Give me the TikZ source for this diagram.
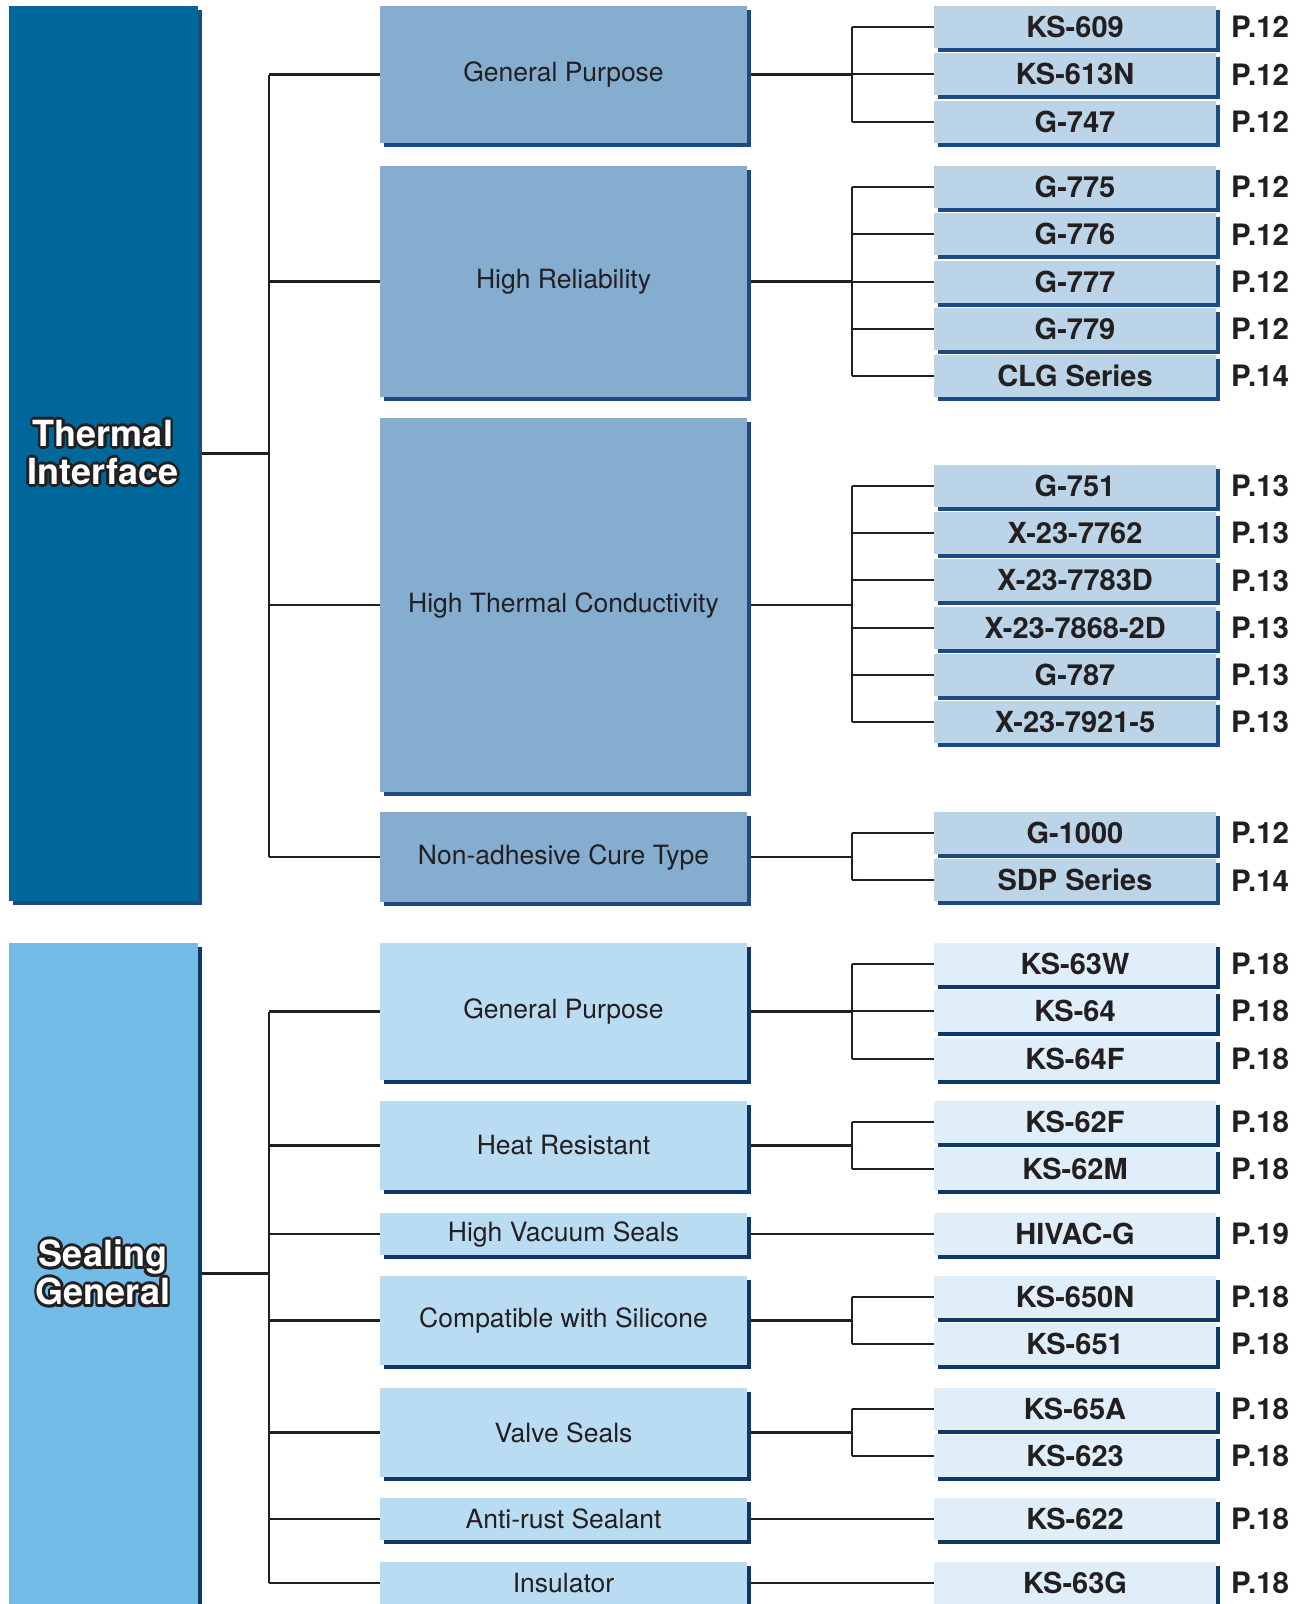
\documentclass[tikz,border=0pt]{standalone}
\usepackage{fontspec}
\setmainfont{TeX Gyre Heros}
\usetikzlibrary{shadows}
\pgfdeclarelayer{bg}
\pgfsetlayers{bg,main}
\definecolor{tmainc}{HTML}{00679B}
\definecolor{tmidc}{HTML}{84ADD0}
\definecolor{tprodc}{HTML}{BCD4E7}
\definecolor{tshad}{HTML}{1B4B80}
\definecolor{smainc}{HTML}{74BCE8}
\definecolor{smidc}{HTML}{BADCF3}
\definecolor{sprodc}{HTML}{E0EEF9}
\definecolor{sshad}{HTML}{0E3866}
\definecolor{txt}{HTML}{231F20}
\tikzset{
  box/.style={inner sep=0pt, outer sep=0pt, text=txt, anchor=center},
  tshadow/.style={general shadow={shadow xshift=3.5pt, shadow yshift=-4pt, fill=tshad}},
  sshadow/.style={general shadow={shadow xshift=3.5pt, shadow yshift=-4pt, fill=sshad}},
  mainT/.style={box, tshadow, fill=tmainc, minimum width=189pt, minimum height=895pt},
  mainS/.style={box, sshadow, fill=smainc, minimum width=189pt, minimum height=661pt},
  midT/.style={box, tshadow, fill=tmidc, minimum width=367pt, font=\fontsize{26.5}{30}\selectfont},
  midS/.style={box, sshadow, fill=smidc, minimum width=367pt, font=\fontsize{26.5}{30}\selectfont},
  prodT/.style={box, tshadow, fill=tprodc, minimum width=282pt, minimum height=42pt, font=\bfseries\fontsize{29}{30}\selectfont},
  prodS/.style={box, sshadow, fill=sprodc, minimum width=282pt, minimum height=42pt, font=\bfseries\fontsize{29}{30}\selectfont},
  pagelab/.style={inner sep=0pt, anchor=west, text=txt, font=\bfseries\fontsize{29.5}{30}\selectfont},
  conn/.style={draw=txt, line width=2.1pt},
  biglab/.style={inner sep=0pt, align=center, font=\bfseries\fontsize{36}{38}\selectfont},
}
\begin{document}
\begin{tikzpicture}[x=1pt, y=-1pt]
\useasboundingbox (0,0) rectangle (1305,1604);
% main boxes
\node[mainT] (tmain) at (103.5,453.5) {};
\node[mainS] (smain) at (103.5,1273.5) {};
\foreach \a [count=\i] in {0,30,...,330} {
  \node[biglab, text=txt, shift={(\a:2.8pt)}] (tlo\i) at (103,452.5) {Thermal\\Interface};
  \node[biglab, text=txt, shift={(\a:2.8pt)}] (slo\i) at (103,1272.5) {Sealing\\General};
}
\node[biglab, text=white] (tlab) at (103,452.5) {Thermal\\Interface};
\node[biglab, text=white] (slab) at (103,1272.5) {Sealing\\General};
% trunk / junction x
\coordinate (tt) at (269,0);
\coordinate (jx) at (852,0);
% thermal mid boxes
\node[midT, minimum height=137pt] (tgp) at (563.5,74.5) {General Purpose};
\node[midT, minimum height=231pt] (thr) at (563.5,281.5) {High Reliability};
\node[midT, minimum height=374pt] (thtc) at (563.5,605) {High Thermal Conductivity};
\node[midT, minimum height=90pt] (tnact) at (563.5,857) {Non-adhesive Cure Type};
% sealing mid boxes
\node[midS, minimum height=137pt] (sgp) at (563.5,1011.5) {General Purpose};
\node[midS, minimum height=89pt] (shr) at (563.5,1145.5) {Heat Resistant};
\node[midS, minimum height=42pt] (shvs) at (563.5,1234) {High Vacuum Seals};
\node[midS, minimum height=89pt] (scws) at (563.5,1320.5) {Compatible with Silicone};
\node[midS, minimum height=89pt] (svs) at (563.5,1432.5) {Valve Seals};
\node[midS, minimum height=42pt] (sars) at (563.5,1519) {Anti-rust Sealant};
\node[midS, minimum height=42pt] (sins) at (563.5,1583) {Insulator};
% thermal products
\foreach \nm/\y/\lab/\pg in {
  ta1/27/KS-609/P.12, ta2/74.3/KS-613N/P.12, ta3/121.6/G-747/P.12,
  tb1/187/G-775/P.12, tb2/234.3/G-776/P.12, tb3/281.6/G-777/P.12, tb4/328.9/G-779/P.12, tb5/376.2/CLG Series/P.14,
  tc1/485.8/G-751/P.13, tc2/533.1/X-23-7762/P.13, tc3/580.4/X-23-7783D/P.13, tc4/627.7/X-23-7868-2D/P.13, tc5/675/G-787/P.13, tc6/722.3/X-23-7921-5/P.13,
  td1/833/G-1000/P.12, td2/880.3/SDP Series/P.14} {
  \node[prodT] (\nm) at (1075,\y) {\lab};
  \node[pagelab] (\nm pg) at (1231,\y) {\pg};
}
% sealing products
\foreach \nm/\y/\lab/\pg in {
  sa1/964/KS-63W/P.18, sa2/1011.3/KS-64/P.18, sa3/1058.6/KS-64F/P.18,
  sb1/1122/KS-62F/P.18, sb2/1169.3/KS-62M/P.18,
  sc1/1234/HIVAC-G/P.19,
  sd1/1297/KS-650N/P.18, sd2/1344.3/KS-651/P.18,
  se1/1409/KS-65A/P.18, se2/1456.3/KS-623/P.18,
  sf1/1519/KS-622/P.18,
  sg1/1583/KS-63G/P.18} {
  \node[prodS] (\nm) at (1075,\y) {\lab};
  \node[pagelab] (\nm pg) at (1231,\y) {\pg};
}
\begin{pgfonlayer}{bg}
% main to trunk
\draw[conn] (tmain.east) -- (tmain.east -| tt);
\draw[conn] (smain.east) -- (smain.east -| tt);
\draw[conn] (tgp.west -| tt) -- (tnact.west -| tt);
\draw[conn] (sgp.west -| tt) -- (sins.west -| tt);
\foreach \m in {tgp,thr,thtc,tnact,sgp,shr,shvs,scws,svs,sars,sins}
  \draw[conn] (\m.west -| tt) -- (\m.west);
% mid to junction
\foreach \m/\f/\l in {tgp/ta1/ta3, thr/tb1/tb5, thtc/tc1/tc6, tnact/td1/td2,
                      sgp/sa1/sa3, shr/sb1/sb2, scws/sd1/sd2, svs/se1/se2} {
  \draw[conn] (\m.east) -- (\m.east -| jx);
  \draw[conn] (\f.west -| jx) -- (\l.west -| jx);
}
\foreach \p in {ta1,ta2,ta3,tb1,tb2,tb3,tb4,tb5,tc1,tc2,tc3,tc4,tc5,tc6,td1,td2,
                sa1,sa2,sa3,sb1,sb2,sd1,sd2,se1,se2}
  \draw[conn] (\p.west -| jx) -- (\p.west);
\draw[conn] (shvs.east) -- (sc1.west);
\draw[conn] (sars.east) -- (sf1.west);
\draw[conn] (sins.east) -- (sg1.west);
\end{pgfonlayer}
\end{tikzpicture}
\end{document}
